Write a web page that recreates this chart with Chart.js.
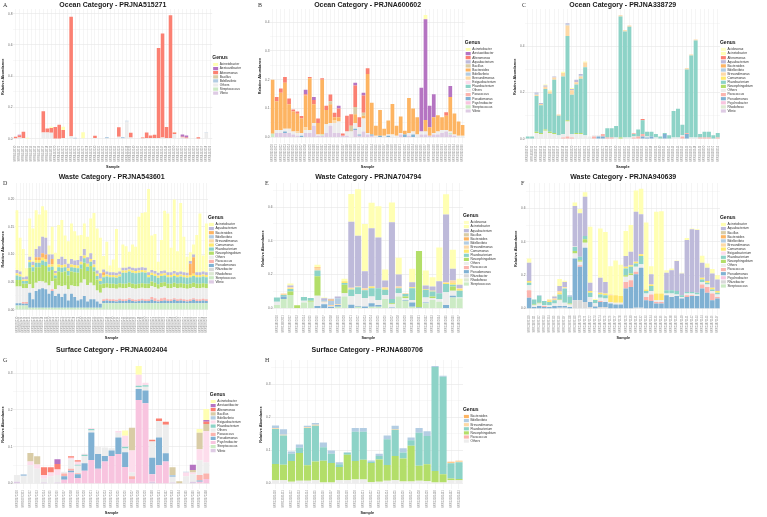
<!DOCTYPE html>
<html>
<head>
<meta charset="utf-8">
<title>Genus relative abundance per project</title>
<script src="https://cdn.jsdelivr.net/npm/chart.js@4.4.1/dist/chart.umd.min.js"></script>
<style>
  html, body { margin: 0; padding: 0; background: #fff; }
  #figure { position: relative; width: 767px; height: 517px; background: #fff; overflow: hidden; }
  .panel { position: absolute; }
  .tag { position: absolute; font: 6px 'Liberation Serif', serif; color: #333; }
</style>
</head>
<body>
<div id="figure">
  <div class="panel" style="left:0;top:0;width:255px;height:170px"><canvas id="chartA"></canvas></div>
  <div class="panel" style="left:255px;top:0;width:255px;height:170px"><canvas id="chartB"></canvas></div>
  <div class="panel" style="left:510px;top:0;width:257px;height:170px"><canvas id="chartC"></canvas></div>
  <div class="panel" style="left:0;top:170px;width:255px;height:170px"><canvas id="chartD"></canvas></div>
  <div class="panel" style="left:255px;top:170px;width:255px;height:170px"><canvas id="chartE"></canvas></div>
  <div class="panel" style="left:510px;top:170px;width:257px;height:170px"><canvas id="chartF"></canvas></div>
  <div class="panel" style="left:0;top:340px;width:255px;height:177px"><canvas id="chartG"></canvas></div>
  <div class="panel" style="left:255px;top:340px;width:255px;height:177px"><canvas id="chartH"></canvas></div>
  <div class="tag" style="left:3px;top:2px">A</div>
  <div class="tag" style="left:258px;top:2px">B</div>
  <div class="tag" style="left:522px;top:2px">C</div>
  <div class="tag" style="left:3px;top:180px">D</div>
  <div class="tag" style="left:265px;top:180px">E</div>
  <div class="tag" style="left:521px;top:180px">F</div>
  <div class="tag" style="left:3px;top:357px">G</div>
  <div class="tag" style="left:265px;top:357px">H</div>
</div>
<script>
Chart.defaults.font.family = "'Liberation Sans', Arial, sans-serif";
Chart.defaults.color = '#4d4d4d';

const genusColor = {
    Acidovorax: '#FFFFC4',
    Acinetobacter: '#FFFFB3',
    Aestuariibacter: '#B574C2',
    Alteromonas: '#FB8072',
    Aquabacterium: '#BEBADA',
    Bacillus: '#D9CCA6',
    Bacteroides: '#FDB462',
    Bdellovibrio: '#B3CDE3',
    Brevundimonas: '#FDD9A6',
    Comamonas: '#FFE96F',
    Exiguobacterium: '#FDDDEC',
    Flavobacterium: '#8DD3C7',
    Novosphingobium: '#B3DE69',
    Others: '#EDEDED',
    Paracoccus: '#FBB4AE',
    Pseudomonas: '#80B1D3',
    Psychrobacter: '#F8C4DF',
    Rhizobacter: '#D9D9D9',
    Rhodoferax: '#DDE9D3',
    Streptococcus: '#CCEBC5',
    Vibrio: '#DECBE4'
};

// sample ids are unreadable in the picture, just placeholders
function sampleIds(prefix, first, n) {
    const out = [];
    for (let i = 0; i < n; i++) out.push(prefix + (first + i));
    return out;
}

// ---------- A : Ocean PRJNA515271 ----------
const aSamples = sampleIds('SRR', 8443110, 50);
const aAcinetobacter = [0,0,0,.004,0,0,0,0,0,.008, 0,0,.022,0,0,0,0,.038,0,0, 0,0,0,0,0,0,0,0,0,0, 0,0,0,0,0,0,0,0,0,0, .003,0,0,0,0,0,0,0,0,0];
const aAestuariibacter = [0,.005,0,0,0,0,0,0,0,0, 0,0,0,0,0,0,0,0,0,0, 0,0,0,0,0,0,0,0,0,0, 0,0,0,0,0,0,0,0,0,0, 0,0,.015,.012,0,0,0,0,0,0];
const aAlteromonas = [.01,.012,.04,0,0,0,0,.135,.025,.03, .075,.088,.05,0,.765,0,0,0,0,0, .015,0,0,0,0,0,.062,0,0,.03, 0,0,.005,.035,.015,.02,.575,.665,.07,.785, .01,0,.005,.005,0,0,.008,0,0,0];
const aBdellovibrio = [0,0,0,0,0,0,0,0,0,0, 0,0,0,0,0,.004,0,0,0,0, 0,0,0,.008,0,0,0,.008,.005,0, 0,0,0,0,0,0,0,0,0,0, 0,0,0,0,0,0,0,0,.003,0];
const aOthers = [.003,.005,.005,.002,.003,.002,.002,.04,.04,.038, 0,.002,.005,.003,.015,.002,.003,.003,.002,.002, .004,.002,.002,.003,.002,.002,.012,.003,.11,.008, .002,.003,.003,.005,.005,.005,.005,.008,.005,.005, .03,.003,.004,.003,.002,.002,.002,.003,.04,.003];
const aVibrio = [0,.003,0,0,0,0,0,0,0,0, 0,0,0,0,0,0,0,0,0,0, 0,0,0,0,0,0,0,0,0,0, 0,0,0,0,0,0,0,0,0,0, 0,0,.003,0,0,0,0,0,0,0];

// ---------- B : Ocean PRJNA600602 ----------
const bSamples = sampleIds('SRR', 10951020, 47);
const bAcinetobacter = [0,0,0,0,0,0,0,0,0,0, 0,0,0,0,0,0,0,0,0,0, 0,0,0,0,0,0,0,0,0,0, 0,0,0,0,0,0,0,.015,0,0, 0,0,0,0,0,0,0];
const bAestuariibacter = [0,0,0,0,0,0,0,0,.015,0, .01,0,0,0,0,0,.01,0,0,0, .01,0,.01,0,0,0,0,0,0,0, 0,0,0,0,0,0,.152,.35,.075,.08, 0,0,0,.038,0,0,0];
const bAlteromonas = [0,.015,.015,.02,.02,.007,.008,.009,.005,.005, .015,.015,.005,.015,.024,.015,.03,.008,.055,.04, .075,.035,.06,.02,0,0,0,0,0,0, 0,0,0,0,0,0,0,0,0,0, 0,0,.012,0,0,0,0];
const bBacillus = [0,0,0,0,0,0,0,0,0,0, 0,0,0,0,.01,0,0,0,0,.02, .025,0,.01,0,0,0,0,0,0,0, 0,0,0,0,0,0,0,0,0,0, 0,0,0,0,0,0,0];
const bBacteroides = [.188,.1,.13,.16,.085,.07,.062,.05,.11,.18, .065,.04,.19,.05,.065,.01,.015,0,0,0, .03,0,.01,.205,.11,.035,.09,.025,.048,.106, .035,.057,.013,.122,.08,.06,0,.04,.03,.055, .057,.045,.05,.12,.073,.05,.038];
const bBrevundimonas = [0,0,0,0,0,0,.005,0,.01,0, 0,0,0,0,0,.01,0,0,0,0, 0,0,0,0,0,0,0,0,0,0, 0,0,0,0,0,0,0,0,0,0, 0,0,0,0,0,0,0];
const bOthers = [0,.01,.01,.01,.015,.01,.01,.01,.01,.01, .01,.005,0,.03,.01,.035,.04,0,.015,.02, .02,.025,.045,.005,0,.005,0,.005,.005,.01, .005,.005,0,.01,.01,.01,.01,.01,0,.005, .01,.01,.005,.005,.005,.005,.005];
const bPseudomonas = [0,0,0,.005,0,0,0,.005,0,0, 0,0,0,0,0,0,0,0,0,0, .005,.005,0,0,.005,0,.005,0,.005,0, 0,0,.01,0,.01,0,0,0,0,0, 0,0,0,0,0,0,0];
const bStreptococcus = [.012,0,0,0,0,0,0,0,0,0, 0,0,.005,0,0,0,0,0,0,0, 0,0,0,0,0,0,0,0,0,0, 0,0,0,0,0,0,0,0,0,0, 0,0,0,.005,0,0,0];
const bVibrio = [0,.015,.015,.015,.015,.01,.005,0,.015,.015, .04,.005,.005,.015,.04,.015,.015,.005,.005,0, .025,.005,.02,.01,.005,0,0,0,0,0, 0,.01,0,.005,0,0,.01,.01,.005,.01, .01,.015,.02,.01,.005,0,0];

// ---------- C : Ocean PRJNA338729 ----------
const cSamples = sampleIds('SRR', 4030510, 44);
const cAcinetobacter = [0,0,0,0,.005,.005,0,0,.005,0, .005,0,0,.005,0,0,0,0,0,0, 0,0,0,0,0,0,0,0,0,0, 0,0,0,0,0,0,0,0,0,0, 0,0,0,0];
const cAlteromonas = [0,0,0,0,0,0,0,0,0,0, 0,0,0,0,0,0,0,0,0,0, 0,0,0,0,.003,0,.005,0,0,0, 0,0,0,0,0,0,0,0,0,0, 0,0,0,0];
const cAquabacterium = [0,0,.005,.005,.005,0,.005,0,0,.005, .005,.01,.005,0,0,0,0,0,0,0, 0,0,0,0,0,0,0,0,0,0, 0,0,0,0,0,0,0,0,0,0, 0,0,0,0];
const cBdellovibrio = [0,0,.005,0,0,0,0,0,0,.005, 0,0,.005,0,0,0,0,0,0,0, 0,0,0,0,0,0,0,0,0,0, 0,0,0,0,0,0,0,0,0,0, 0,0,0,0];
const cBrevundimonas = [0,0,.005,.005,.01,.01,.01,.005,.015,.045, .02,.01,.01,.02,0,0,0,0,0,0, 0,.005,.005,.005,0,0,0,0,0,0, 0,0,0,0,0,0,.005,.005,.005,0, 0,0,0,0];
const cFlavobacterium = [.01,.01,.155,.12,.175,.165,.23,.085,.25,.365, .17,.21,.235,.295,0,0,0,0,.04,.04, .05,.525,.46,.48,.01,.03,.06,.02,.02,.015, .01,.005,.015,.115,.125,.045,.275,.355,.42,.015, .025,.025,.015,.02];
const cNovosphingobium = [0,0,.005,.005,.005,.005,.005,0,0,.005, 0,.005,.005,0,0,0,0,0,0,0, 0,.005,0,0,0,0,0,0,0,0, 0,0,0,0,0,0,0,0,0,0, 0,0,0,0];
const cOthers = [0,0,.025,.02,.035,.025,.02,.015,.015,.065, .015,.02,.02,.015,.01,.005,.005,0,0,0, .005,0,.005,.005,.005,0,0,.005,0,.005, 0,0,0,.005,.005,.005,0,.005,.005,0, 0,0,0,0];
const cParacoccus = [0,0,0,0,0,0,0,0,.005,.01, .005,0,0,0,0,.01,0,.01,.005,.005, 0,0,0,0,.005,.01,.01,0,0,0, 0,0,0,0,0,.01,.005,0,0,.005, .005,.005,0,.005];
const cPseudomonas = [0,0,0,0,0,0,0,0,0,0, 0,0,0,0,0,0,.01,.01,0,0, 0,0,0,0,0,0,.01,.005,.01,0, 0,.02,0,0,0,0,.02,0,0,0, 0,0,0,0];

// ---------- D : Waste PRJNA543601 ----------
const dSamples = sampleIds('SRR', 9070210, 60);
const dAcinetobacter = [.108,.061,.051,.015,.069,.06,.07,.057,.055,.05, .016,.05,.033,.061,.066,.042,.041,.064,.053,.044, .038,.046,.037,.063,.085,.076,.064,.024,.054,.012, .023,.079,.007,.042,.039,.027,.042,.039,.092,.098, .1,.15,.062,.067,.02,.056,.108,.106,.044,.129, .038,.124,.064,.029,.016,.018,.067,.106,.029,.088];
const dAquabacterium = [.006,.005,.004,.005,.006,.006,.015,.02,.03,.03, .018,.008,.004,.01,.015,.01,.008,.01,.008,.01, .01,.012,.012,.01,.008,.006,.01,.005,.005,.005, .005,.005,.005,.005,.005,.005,.005,.005,.005,.005, .005,.005,.005,.005,.005,.005,.005,.005,.005,.005, .005,.005,.005,.005,.005,.005,.005,.005,.005,.005];
const dBacteroides = [0,0,0,0,0,0,.005,.005,.008,.008, 0,.01,0,0,0,0,0,0,0,0, 0,0,0,0,0,0,0,.005,0,0, 0,0,0,0,0,0,0,0,0,0, 0,0,0,0,0,0,0,0,0,0, 0,0,0,0,.02,.03,0,0,0,0];
const dComamonas = [.004,.004,.003,.003,.004,.004,.005,.005,.005,.005, .005,.004,.004,.005,.005,.005,.005,.005,.005,.005, .005,.005,.005,.005,.005,.004,.004,.004,.004,.004, .004,.004,.004,.004,.004,.004,.004,.004,.004,.004, .004,.004,.004,.004,.004,.004,.004,.004,.004,.004, .004,.004,.004,.004,.004,.004,.004,.004,.004,.004];
const dFlavobacterium = [.008,.006,.005,.005,.01,.008,.008,.008,.008,.008, .008,.006,.005,.008,.008,.008,.008,.008,.008,.008, .008,.008,.008,.008,.008,.006,.006,.012,.012,.012, .012,.012,.012,.02,.02,.02,.02,.02,.02,.02, .02,.012,.012,.012,.012,.012,.012,.012,.012,.012, .012,.012,.012,.012,.012,.012,.012,.012,.012,.012];
const dNovosphingobium = [.012,.012,.008,.008,.03,.03,.028,.025,.03,.03, .025,.02,.02,.025,.025,.025,.025,.025,.025,.025, .025,.03,.025,.03,.025,.02,.015,.008,.008,.008, .008,.008,.008,.008,.008,.008,.008,.008,.008,.008, .008,.008,.008,.008,.008,.008,.008,.008,.008,.008, .008,.008,.008,.008,.008,.008,.008,.008,.008,.008];
const dOthers = [.03,.03,.025,.025,.015,.02,.015,.015,.012,.012, .015,.015,.012,.015,.02,.015,.02,.015,.02,.025, .03,.03,.03,.03,.025,.02,.02,.02,.02,.02, .02,.02,.02,.02,.02,.02,.02,.02,.02,.02, .02,.02,.02,.02,.02,.02,.02,.02,.02,.02, .02,.02,.02,.02,.02,.02,.02,.02,.02,.02];
const dParacoccus = [0,0,.003,.003,0,0,0,0,0,0, 0,.003,0,0,0,0,0,0,0,0, 0,0,0,0,0,0,0,.003,.003,.003, .003,.003,.003,.003,.003,.003,.003,.003,.003,.003, .003,.003,.005,.005,.003,.005,.005,.003,.003,.003, .003,.003,.003,.003,.003,.003,.003,.003,.003,.003];
const dPseudomonas = [.004,.004,.003,.003,.027,.015,.03,.033,.035,.033, .025,.03,.021,.025,.019,.025,.013,.025,.019,.013, .015,.021,.011,.015,.015,.011,.007,.004,.005,.004, .004,.003,.005,.004,.004,.006,.004,.003,.004,.005, .004,.004,.006,.004,.003,.004,.005,.004,.004,.006, .004,.005,.004,.003,.004,.006,.004,.004,.005,.004];
const dStreptococcus = [.008,.008,.008,.008,.004,.004,.004,.004,.004,.004, .004,.004,.004,.004,.004,.004,.004,.004,.004,.004, .004,.004,.004,.004,.004,.004,.004,.012,.012,.012, .012,.012,.012,.012,.012,.012,.012,.012,.012,.012, .012,.012,.012,.012,.012,.012,.012,.012,.012,.012, .012,.012,.012,.012,.012,.012,.012,.012,.012,.012];

// ---------- E : Waste PRJNA704794 ----------
const eSamples = sampleIds('SRR', 13862010, 28);
const eAcinetobacter = [0,0,.012,0,0,0,.013,.005,0,0, .015,.165,.275,.28,.15,.185,.065,.117,.1,0, .08,0,.09,.055,.2,.12,.112,.036];
const eAquabacterium = [0,0,.01,0,0,0,0,.01,.004,.01, 0,.39,.3,.1,.345,.3,.04,.455,.07,0, .03,0,.02,.025,.07,.4,.07,.02];
const eBacteroides = [0,0,0,0,0,0,.005,0,.008,0, 0,0,0,0,0,0,0,0,0,0, 0,0,0,0,0,0,0,0];
const eBdellovibrio = [0,0,0,0,0,0,0,.01,.025,.035, 0,0,0,0,0,0,0,0,0,0, 0,0,0,0,0,0,0,0];
const eBrevundimonas = [0,.008,.005,0,0,0,.015,.005,.005,.005, 0,.005,.005,.013,0,0,.005,0,.01,.005, 0,0,0,0,0,.005,.015,.005];
const eComamonas = [0,0,.005,0,0,0,0,0,0,0, .01,.005,0,0,.01,0,.01,0,0,0, .005,0,.005,.005,0,.005,.01,.01];
const eFlavobacterium = [.025,.01,.015,0,.022,.017,.035,0,0,0, .01,.04,.04,.045,.05,.07,.03,.025,.03,.015, .07,0,.045,.03,.035,.05,.01,.04];
const eNovosphingobium = [0,0,.02,.018,0,.005,.115,0,0,0, .05,0,0,0,0,0,0,.005,0,.01, 0,.335,0,.01,0,0,.025,0];
const eOthers = [.02,0,0,0,.01,0,.06,.01,.005,0, .02,.05,.07,.05,.04,.03,.025,.02,.02,.01, .015,0,.03,.01,.015,.075,.03,.005];
const ePseudomonas = [0,.015,0,0,0,0,.015,.025,.01,.01, 0,.022,.005,.012,.02,.01,0,.005,0,.005, .025,.005,.005,0,0,.02,.01,0];
const eStreptococcus = [.02,.055,.08,0,.035,.04,0,0,0,.01, .07,0,.01,0,.01,.01,.055,0,.07,.045, .01,0,.03,.05,.04,0,.065,.06];

// ---------- F : Waste PRJNA940639 ----------
const fSamples = sampleIds('SRR', 23871110, 38);
const fAcinetobacter = [.025,0,0,0,.005,.005,.042,.007,0,.02, .025,.026,.335,.006,.295,.298,.169,.208,.188,.15, .16,.127,.152,.4,.049,.49,.493,.015,.01,.003, .005,.013,.005,.005,.042,.025,.027,.025];
const fAquabacterium = [.11,0,0,0,0,.012,.03,.03,0,.24, .261,.235,.05,0,.09,.07,0,0,0,.065, .08,.3,.24,0,.06,0,0,.105,.12,.18, .13,.31,.375,.375,.09,.08,.085,.07];
const fBdellovibrio = [0,0,.005,0,0,0,0,0,.01,0, 0,0,0,0,0,0,0,0,0,0, 0,0,0,0,0,0,0,0,0,0, 0,0,0,0,0,0,0,0];
const fBrevundimonas = [0,0,0,0,.008,.01,.01,0,0,0, 0,0,0,0,0,0,.005,0,0,0, 0,0,0,0,0,0,0,0,0,0, 0,0,0,0,0,0,0,0];
const fComamonas = [.01,0,0,0,.005,0,.01,.005,0,0, 0,0,.01,0,.01,.01,.04,.045,.04,.01, .01,.01,.01,.01,.01,.04,.04,0,0,0, 0,0,0,0,.01,.01,.01,.01];
const fExiguobacterium = [0,0,0,0,0,0,0,.005,0,.005, 0,0,0,0,0,0,0,0,0,0, 0,0,0,0,0,0,0,0,0,0, 0,0,0,0,0,0,0,0];
const fFlavobacterium = [.015,.03,.04,.025,.02,.02,.03,.085,.04,.025, .02,.02,.025,.02,.02,.02,0,0,0,.04, .04,.02,.05,.015,.03,0,0,.02,.02,.02, .01,.01,.01,.01,.015,.01,.01,.01];
const fNovosphingobium = [0,.004,.005,0,0,0,.005,0,.005,.015, .01,.02,0,0,0,0,0,0,0,.01, .01,0,0,0,0,0,0,0,0,0, 0,0,0,0,0,0,0,0];
const fOthers = [.03,.01,.015,.006,.01,.015,.035,.02,.015,.03, .02,.03,.03,.02,.02,.02,.01,.01,.01,.03, .03,.03,.02,.02,.02,.01,.01,.01,.02,.01, .01,.01,.01,.01,.015,.015,.015,.015];
const fParacoccus = [.045,0,0,.005,0,0,0,0,0,0, .01,0,0,0,.005,0,0,0,0,.04, .04,.015,0,.02,.04,.01,.01,0,0,0, 0,.01,.005,0,.025,.035,.04,.01];
const fPseudomonas = [.065,.01,.015,.01,.01,.015,.01,.01,.01,.25, .2,.325,.03,.012,.03,.03,.03,.025,.025,.12, .13,.2,.24,.05,.045,.03,.03,.08,.07,.075, .06,.07,.075,.075,.12,.095,.05,.06];
const fRhizobacter = [0,0,0,0,0,0,.005,.005,0,.05, .05,.04,.01,0,.01,.01,0,0,0,0, 0,.005,.005,0,0,0,0,0,0,0, 0,0,0,0,0,0,0,0];

// ---------- G : Surface PRJNA602404 ----------
const gSamples = sampleIds('SRR', 10972310, 29);
const gAcinetobacter = [0,0,0,0,0,0,0,0,0,0, 0,0,0,0,0,0,.014,0,.024,0, 0,0,0,0,0,0,0,.01,.03];
const gAestuariibacter = [0,0,0,0,0,0,.013,0,0,0, 0,0,0,0,0,0,0,0,0,0, 0,0,0,0,0,0,.014,0,.005];
const gAlteromonas = [0,0,0,0,.021,.014,.015,0,.004,.004, 0,0,0,0,0,0,0,0,0,0, .005,.007,.008,0,0,0,0,0,.006];
const gBacillus = [0,0,.023,.022,0,0,0,0,0,0, 0,0,0,0,0,0,0,.062,0,0, 0,0,0,.021,.006,0,.007,.045,.02];
const gBdellovibrio = [0,.005,0,0,0,0,0,0,0,0, 0,0,0,0,0,0,0,0,0,0, 0,0,0,.005,0,.002,0,0,0];
const gExiguobacterium = [0,0,.01,.012,.01,.01,.015,0,.005,.008, .003,.003,0,0,0,.005,.03,.06,.03,.007, 0,0,0,0,0,.01,.005,.03,.085];
const gFlavobacterium = [0,0,0,0,0,0,0,0,0,.003, .003,.004,0,0,0,0,.005,0,.004,.004, 0,0,0,0,0,0,0,0,0];
const gOthers = [.018,.02,.05,.04,.01,.02,.02,.005,.025,.02, .02,.005,.02,.023,.006,.013,.01,.01,.005,.01, .044,.045,.078,.015,0,.02,.02,.04,.03];
const gParacoccus = [0,0,0,0,0,0,0,.007,.005,.003, 0,0,0,0,0,0,0,.008,0,0, 0,0,0,0,0,0,0,.015,.015];
const gPseudomonas = [0,0,0,0,0,0,0,.01,.005,.01, .02,.075,.04,.015,.015,.045,.04,0,.03,.035, .045,.075,.022,0,0,0,0,.003,0];
const gPsychrobacter = [0,0,0,0,0,0,0,.01,.03,.015, .035,.064,.04,.06,.075,.08,.045,.012,.227,.218, .02,.05,.06,0,0,0,0,.005,.012];
const gVibrio = [.005,0,0,0,.003,0,.003,0,0,0, 0,0,0,0,0,0,0,0,0,0, .005,0,0,.003,0,0,.005,0,0];

// ---------- H : Surface PRJNA680706 ----------
const hSamples = sampleIds('SRR', 13181410, 24);
const hBacteroides = [0,0,0,0,0,0,0,0,0,0, 0,0,0,0,0,0,0,0,0,0, 0,0,.003,.002];
const hBdellovibrio = [.009,.016,.007,.01,.005,.005,.014,.01,.006,.002, .011,.011,.004,.007,.011,.01,.013,.008,.014,.014, .003,.003,0,0];
const hBrevundimonas = [.002,.003,0,0,.002,.003,0,0,0,0, 0,0,0,0,0,.002,0,0,0,0, 0,0,.002,.003];
const hFlavobacterium = [.106,.088,.022,.016,.113,.108,.041,.028,.008,.006, .089,.085,.004,.01,.078,.08,.018,.017,.1,.086, .315,.295,.046,.05];
const hNovosphingobium = [.049,.047,.063,.084,.047,.057,.066,.059,.04,.077, .056,.06,.058,.068,.048,.073,.07,.108,.046,.051, .035,.025,.005,.004];
const hOthers = [.01,.01,.005,.008,.008,.01,.003,.003,.01,.01, .012,.012,.004,.005,.008,.01,.006,.006,.008,.007, .003,.003,.01,.01];

// parts come in legend order (top of the bar first); chart.js stacks dataset 0 at the bottom
function stack(parts) {
    return parts.slice().reverse().map(([name, values]) => ({
        label: name,
        data: values,
        backgroundColor: genusColor[name],
        borderColor: '#ffffff',
        borderWidth: 0
    }));
}

// title centred over the plot panel like ggplot does
const panelTitle = {
    id: 'panelTitle',
    afterDraw(chart, args, opts) {
        const ctx = chart.ctx;
        const area = chart.chartArea;
        ctx.save();
        ctx.font = "bold 7px 'Liberation Sans', Arial, sans-serif";
        ctx.fillStyle = '#1a1a1a';
        ctx.textAlign = 'center';
        ctx.textBaseline = 'middle';
        ctx.fillText(opts.text, (area.left + area.right) / 2, opts.y);
        ctx.restore();
    }
};

function drawPanel(id, title, titleY, legendGap, samples, parts, yMax, major, minor, digits, pad) {
    const allTicks = major.concat(minor).sort((p, q) => p - q);
    return new Chart(document.getElementById(id), {
        type: 'bar',
        data: { labels: samples, datasets: stack(parts) },
        plugins: [panelTitle],
        options: {
            responsive: true,
            maintainAspectRatio: false,
            animation: false,
            layout: { padding: pad },
            datasets: { bar: { categoryPercentage: 1, barPercentage: 0.9 } },
            plugins: {
                panelTitle: { text: title, y: titleY },
                tooltip: { enabled: false },
                legend: {
                    position: 'right',
                    align: 'start',
                    reverse: true,
                    title: {
                        display: true, text: 'Genus', color: '#1a1a1a', position: 'start',
                        font: { size: 5, weight: 'bold' }, padding: { top: legendGap, bottom: 1 }
                    },
                    labels: { boxWidth: 5, boxHeight: 3.2, padding: 0.9, color: '#333', font: { size: 3.2 } }
                }
            },
            scales: {
                x: {
                    stacked: true,
                    ticks: { autoSkip: false, minRotation: 90, maxRotation: 90, padding: 1, color: '#8a8a8a', font: { size: 2.7 } },
                    grid: { offset: false, color: '#ebebeb', lineWidth: 0.5, drawTicks: false },
                    border: { display: false },
                    title: { display: true, text: 'Sample', color: '#1a1a1a', font: { size: 3.8, weight: 'bold' }, padding: { top: 1.5, bottom: 0 } }
                },
                y: {
                    stacked: true,
                    min: -yMax * 0.047,
                    max: yMax,
                    afterBuildTicks: (scale) => { scale.ticks = allTicks.map(v => ({ value: v })); },
                    ticks: {
                        padding: 1, color: '#6a6a6a', font: { size: 3.2 },
                        callback: (v) => major.includes(v) ? v.toFixed(digits) : ''
                    },
                    grid: {
                        color: '#e6e6e6', drawTicks: false,
                        lineWidth: (c) => (c.tick && major.includes(c.tick.value)) ? 0.6 : 0.3
                    },
                    border: { display: false },
                    title: { display: true, text: 'Relative Abundance', color: '#1a1a1a', font: { size: 3.8, weight: 'bold' }, padding: { top: 0, bottom: 1.5 } }
                }
            }
        }
    });
}

drawPanel('chartA', 'Ocean Category - PRJNA515271', 5, 46, aSamples, [
    ['Acinetobacter', aAcinetobacter], ['Aestuariibacter', aAestuariibacter], ['Alteromonas', aAlteromonas],
    ['Bacillus', []], ['Bdellovibrio', aBdellovibrio], ['Others', aOthers], ['Streptococcus', []], ['Vibrio', aVibrio]
], 0.83, [0, 0.2, 0.4, 0.6, 0.8], [0.1, 0.3, 0.5, 0.7], 1, { top: 9, bottom: 1, left: 1, right: 4 });

drawPanel('chartB', 'Ocean Category - PRJNA600602', 5, 31, bSamples, [
    ['Acinetobacter', bAcinetobacter], ['Aestuariibacter', bAestuariibacter], ['Alteromonas', bAlteromonas],
    ['Aquabacterium', []], ['Bacillus', bBacillus], ['Bacteroides', bBacteroides], ['Bdellovibrio', []],
    ['Brevundimonas', bBrevundimonas], ['Exiguobacterium', []], ['Flavobacterium', []], ['Others', bOthers],
    ['Paracoccus', []], ['Pseudomonas', bPseudomonas], ['Psychrobacter', []], ['Streptococcus', bStreptococcus], ['Vibrio', bVibrio]
], 0.446, [0, 0.1, 0.2, 0.3, 0.4], [0.05, 0.15, 0.25, 0.35], 1, { top: 9, bottom: 1, left: 3, right: 4 });

drawPanel('chartC', 'Ocean Category - PRJNA338729', 5, 31, cSamples, [
    ['Acidovorax', []], ['Acinetobacter', cAcinetobacter], ['Alteromonas', cAlteromonas], ['Aquabacterium', cAquabacterium],
    ['Bacteroides', []], ['Bdellovibrio', cBdellovibrio], ['Brevundimonas', cBrevundimonas], ['Comamonas', []],
    ['Flavobacterium', cFlavobacterium], ['Novosphingobium', cNovosphingobium], ['Others', cOthers], ['Paracoccus', cParacoccus],
    ['Pseudomonas', cPseudomonas], ['Psychrobacter', []], ['Rhodoferax', []], ['Vibrio', []]
], 0.562, [0, 0.2, 0.4], [0.1, 0.3, 0.5], 1, { top: 9, bottom: 1, left: 3, right: 4 });

drawPanel('chartD', 'Waste Category - PRJNA543601', 7, 32, dSamples, [
    ['Acinetobacter', dAcinetobacter], ['Aquabacterium', dAquabacterium], ['Bacteroides', dBacteroides], ['Bdellovibrio', []],
    ['Brevundimonas', []], ['Comamonas', dComamonas], ['Flavobacterium', dFlavobacterium], ['Novosphingobium', dNovosphingobium],
    ['Others', dOthers], ['Paracoccus', dParacoccus], ['Pseudomonas', dPseudomonas], ['Rhizobacter', []],
    ['Rhodoferax', []], ['Streptococcus', dStreptococcus], ['Vibrio', []]
], 0.229, [0, 0.05, 0.1, 0.15, 0.2], [0.025, 0.075, 0.125, 0.175], 2, { top: 13, bottom: 0, left: 1, right: 4 });

drawPanel('chartE', 'Waste Category - PRJNA704794', 7, 30, eSamples, [
    ['Acidovorax', []], ['Acinetobacter', eAcinetobacter], ['Aquabacterium', eAquabacterium], ['Bacillus', []],
    ['Bacteroides', eBacteroides], ['Bdellovibrio', eBdellovibrio], ['Brevundimonas', eBrevundimonas], ['Comamonas', eComamonas],
    ['Flavobacterium', eFlavobacterium], ['Novosphingobium', eNovosphingobium], ['Others', eOthers], ['Paracoccus', []],
    ['Pseudomonas', ePseudomonas], ['Rhizobacter', []], ['Rhodoferax', []], ['Streptococcus', eStreptococcus]
], 0.742, [0, 0.2, 0.4, 0.6], [0.1, 0.3, 0.5, 0.7], 1, { top: 13, bottom: 0, left: 6, right: 4 });

drawPanel('chartF', 'Waste Category - PRJNA940639', 7, 32, fSamples, [
    ['Acinetobacter', fAcinetobacter], ['Aquabacterium', fAquabacterium], ['Bacillus', []], ['Bacteroides', []],
    ['Bdellovibrio', fBdellovibrio], ['Brevundimonas', fBrevundimonas], ['Comamonas', fComamonas], ['Exiguobacterium', fExiguobacterium],
    ['Flavobacterium', fFlavobacterium], ['Novosphingobium', fNovosphingobium], ['Others', fOthers], ['Paracoccus', fParacoccus],
    ['Pseudomonas', fPseudomonas], ['Psychrobacter', []], ['Rhizobacter', fRhizobacter], ['Streptococcus', []]
], 0.752, [0, 0.2, 0.4, 0.6], [0.1, 0.3, 0.5, 0.7], 1, { top: 13, bottom: 0, left: 4, right: 4 });

drawPanel('chartG', 'Surface Category - PRJNA602404', 10, 32, gSamples, [
    ['Acinetobacter', gAcinetobacter], ['Aestuariibacter', gAestuariibacter], ['Alteromonas', gAlteromonas], ['Bacillus', gBacillus],
    ['Bdellovibrio', gBdellovibrio], ['Exiguobacterium', gExiguobacterium], ['Flavobacterium', gFlavobacterium], ['Others', gOthers],
    ['Paracoccus', gParacoccus], ['Pseudomonas', gPseudomonas], ['Psychrobacter', gPsychrobacter], ['Streptococcus', []], ['Vibrio', gVibrio]
], 0.336, [0, 0.1, 0.2, 0.3], [0.05, 0.15, 0.25], 1, { top: 20, bottom: 2, left: 1, right: 4 });

drawPanel('chartH', 'Surface Category - PRJNA680706', 10, 47, hSamples, [
    ['Bacteroides', hBacteroides], ['Bdellovibrio', hBdellovibrio], ['Brevundimonas', hBrevundimonas], ['Flavobacterium', hFlavobacterium],
    ['Novosphingobium', hNovosphingobium], ['Paracoccus', []], ['Others', hOthers]
], 0.374, [0, 0.1, 0.2, 0.3], [0.05, 0.15, 0.25, 0.35], 1, { top: 20, bottom: 2, left: 4, right: 4 });
</script>
</body>
</html>
